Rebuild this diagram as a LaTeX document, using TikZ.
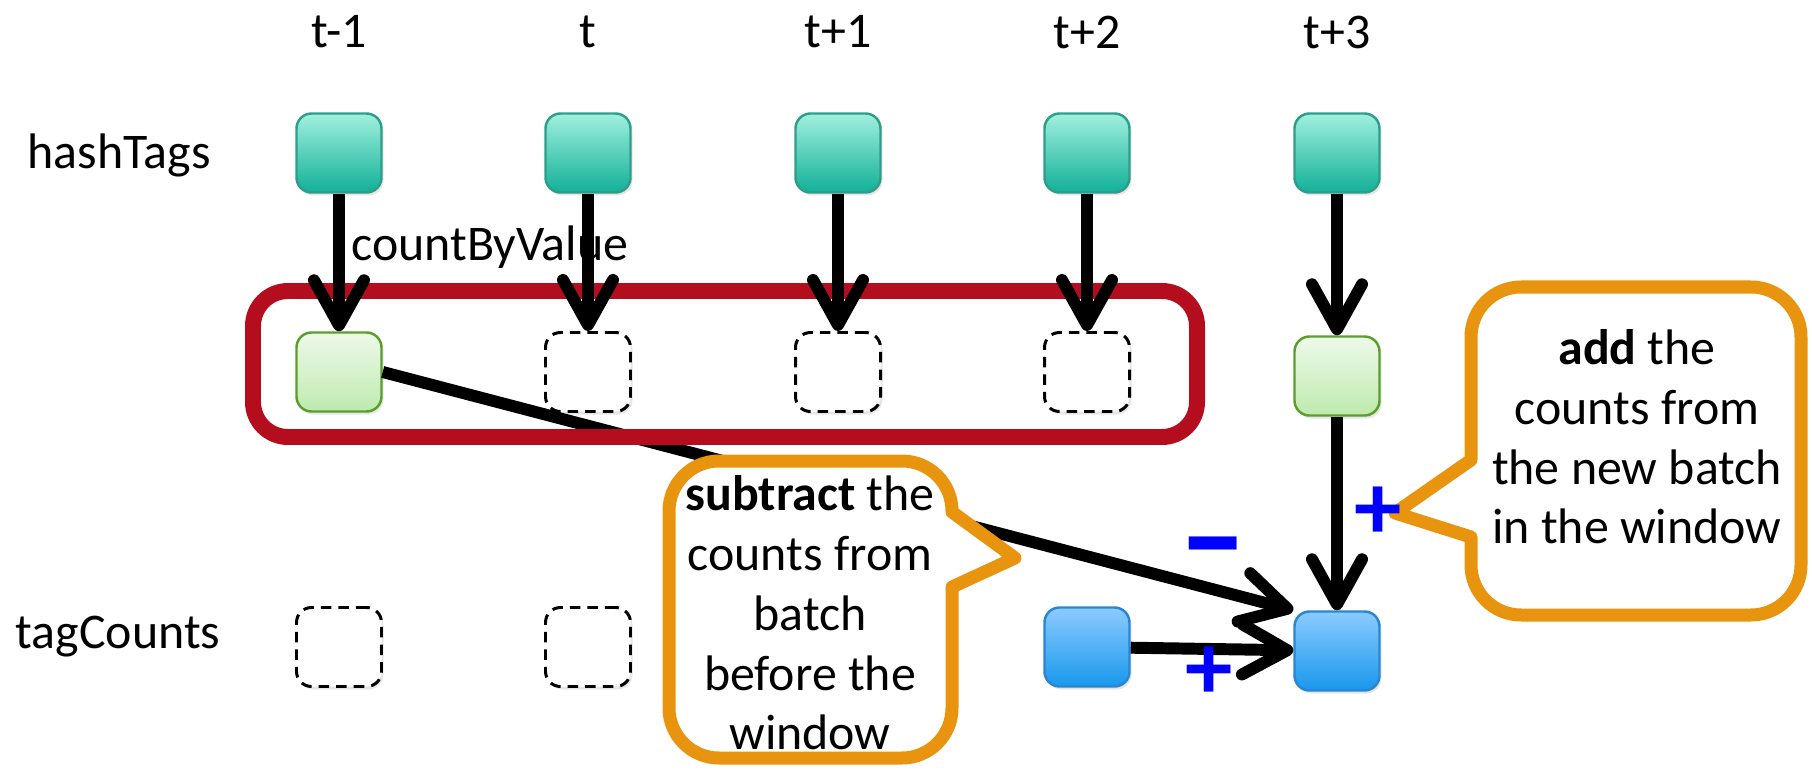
\documentclass[tikz,border=0pt]{standalone}
\usepackage{fontspec}
\setmainfont{Carlito}
\usetikzlibrary{arrows.meta,shadows}

\definecolor{tealtop}{HTML}{A0F0DE}
\definecolor{tealbot}{HTML}{12B098}
\definecolor{tealline}{HTML}{2E9E8A}
\definecolor{greentop}{HTML}{EEF9EA}
\definecolor{greenbot}{HTML}{BEEAAE}
\definecolor{greenline}{HTML}{5B9E2E}
\definecolor{bluetop}{HTML}{8CCBFF}
\definecolor{bluebot}{HTML}{1898EC}
\definecolor{blueline}{HTML}{2A86D0}
\definecolor{windowred}{HTML}{B30D1E}
\definecolor{noteorange}{HTML}{E8940F}
\definecolor{signblue}{HTML}{0000FF}

\tikzset{
  cell/.style={rectangle, rounded corners=0.15cm, minimum width=0.85cm, minimum height=0.79cm,
    line width=0.7pt, drop shadow={opacity=0.2, shadow xshift=0.02cm, shadow yshift=-0.03cm}},
  hashbox/.style={cell, draw=tealline, top color=tealtop, bottom color=tealbot},
  batchbox/.style={cell, draw=greenline, top color=greentop, bottom color=greenbot},
  countbox/.style={cell, draw=blueline, top color=bluetop, bottom color=bluebot},
  emptybox/.style={cell, draw=black, fill=white, line width=0.85pt, dash pattern=on 3pt off 2pt},
  flow/.style={line width=3.4pt, -{Straight Barb[length=0.45cm, width=0.5cm, round]}},
  window/.style={draw=windowred, line width=4.55pt, rounded corners=0.35cm},
  note/.style={draw=noteorange, fill=white, line width=3.7pt, line join=round},
  sign/.style={text=signblue, font=\fontsize{27pt}{27pt}\selectfont\bfseries},
}

\begin{document}
\begin{tikzpicture}[font=\fontsize{14.2pt}{17pt}\selectfont]
\useasboundingbox (0,0) rectangle (18.12,7.70);
% time steps
\node (time1) at (3.39,7.38) {t-1};
\node (time2) at (5.88,7.38) {t};
\node (time3) at (8.38,7.38) {t+1};
\node (time4) at (10.87,7.38) {t+2};
\node (time5) at (13.37,7.38) {t+3};
% row labels
\node (hashlabel) at (1.19,6.15) {hashTags};
\node (countlabel) at (1.18,1.33) {tagCounts};
\node (opname) at (4.90,5.23) {countByValue};
% hashTags
\node [hashbox] (h1) at (3.39,6.17) {};
\node [hashbox] (h2) at (5.88,6.17) {};
\node [hashbox] (h3) at (8.38,6.17) {};
\node [hashbox] (h4) at (10.87,6.17) {};
\node [hashbox] (h5) at (13.37,6.17) {};
% counted batches
\node [batchbox] (w1) at (3.39,3.98) {};
\node [emptybox] (w2) at (5.88,3.98) {};
\node [emptybox] (w3) at (8.38,3.98) {};
\node [emptybox] (w4) at (10.87,3.98) {};
\node [batchbox] (w5) at (13.37,3.94) {};
% tagCounts
\node [emptybox] (c1) at (3.39,1.23) {};
\node [emptybox] (c2) at (5.88,1.23) {};
\node [countbox] (c4) at (10.87,1.23) {};
\node [countbox] (c5) at (13.37,1.19) {};
% batch leaving the window
\draw [flow] (w1.east) -- (c5.north west);
% window
\draw [window] (2.53,3.33) rectangle (11.97,4.79);
% arrows
\draw [flow] (h1) -- (w1);
\draw [flow] (h2) -- (w2);
\draw [flow] (h3) -- (w3);
\draw [flow] (h4) -- (w4);
\draw [flow] (h5) -- (w5);
\draw [flow] (w5) -- (c5);
\draw [flow] (c4) -- (c5);
% callouts
\draw [note] (10.15,2.12) -- (9.52,2.58) -- (9.52,2.59) arc[start angle=0, end angle=90, radius=0.5]
  -- (7.19,3.09) arc[start angle=90, end angle=180, radius=0.5]
  -- (6.69,0.62) arc[start angle=180, end angle=270, radius=0.5]
  -- (9.02,0.12) arc[start angle=270, end angle=360, radius=0.5] -- (9.52,1.83) -- cycle;
\node [align=center] (subtractnote) at (8.10,1.57) {\textbf{subtract} the\\counts from\\batch\\before the\\window};
\draw [note] (13.95,2.57) -- (14.71,2.33) -- (14.71,2.05) arc[start angle=180, end angle=270, radius=0.5]
  -- (17.51,1.55) arc[start angle=270, end angle=360, radius=0.5]
  -- (18.01,4.33) arc[start angle=0, end angle=90, radius=0.5]
  -- (15.21,4.83) arc[start angle=90, end angle=180, radius=0.5] -- (14.71,3.10) -- cycle;
\node [align=center] (addnote) at (16.37,3.33) {\textbf{add} the\\counts from\\the new batch\\in the window};
% signs
\node [sign] (minus) at (12.13,2.07) {\scalebox{1.3}[1.5]{−}};
\node [sign] (plusnew) at (13.78,2.57) {+};
\node [sign] (plusold) at (12.09,0.97) {+};
\end{tikzpicture}
\end{document}
